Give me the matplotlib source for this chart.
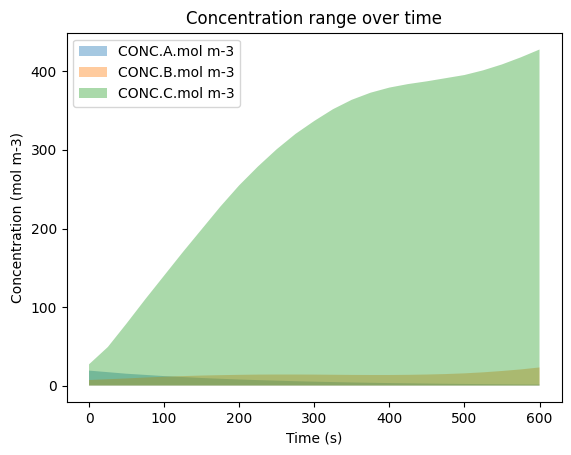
import numpy as np
import matplotlib
matplotlib.use('Agg')
import matplotlib.pyplot as plt

# Time points (s)
time = [0, 25, 50, 75, 100, 125, 150, 175, 200, 225, 250, 275, 300,
        325, 350, 375, 400, 425, 450, 475, 500, 525, 550, 575, 600]

# Range (min / max) of each species concentration
conc_a_min = [0] * 25
conc_a_max = [19, 17, 15, 13.5, 12, 10.8, 9.6, 8.6, 7.7, 6.9, 6.2, 5.5, 4.9,
              4.4, 3.9, 3.5, 3.1, 2.8, 2.5, 2.2, 2.0, 1.8, 1.6, 1.4, 1.3]
conc_b_min = [0] * 25
conc_b_max = [7, 8, 9, 10.2, 11.2, 12, 12.7, 13.2, 13.6, 13.9, 14, 14, 13.9,
              13.7, 13.5, 13.4, 13.4, 13.6, 14, 14.6, 15.5, 16.8, 18.5, 20.5, 23]
conc_c_min = [0] * 25
conc_c_max = [27, 49, 79, 110, 140, 170, 199, 228, 255, 279, 301, 320.5, 337,
              352, 364, 373, 379.5, 384, 387.5, 391.5, 395.5, 401.5, 409, 418, 428]

labels = ['CONC.A.mol m-3', 'CONC.B.mol m-3', 'CONC.C.mol m-3']

fig = plt.figure(figsize=(5.71, 4.55), dpi=100)
ax = fig.add_axes([0.1165, 0.1158, 0.8678, 0.8123])

ax.fill_between(time, conc_a_min, conc_a_max, alpha=0.4, label=labels[0], linewidth=0)
ax.fill_between(time, conc_b_min, conc_b_max, alpha=0.4, label=labels[1], linewidth=0)
ax.fill_between(time, conc_c_min, conc_c_max, alpha=0.4, label=labels[2], linewidth=0)

ax.set_xlabel('Time (s)')
ax.set_ylabel('Concentration (mol m-3)')
ax.set_title('Concentration range over time')
ax.legend(loc='upper left')

fig.savefig('out.png')
